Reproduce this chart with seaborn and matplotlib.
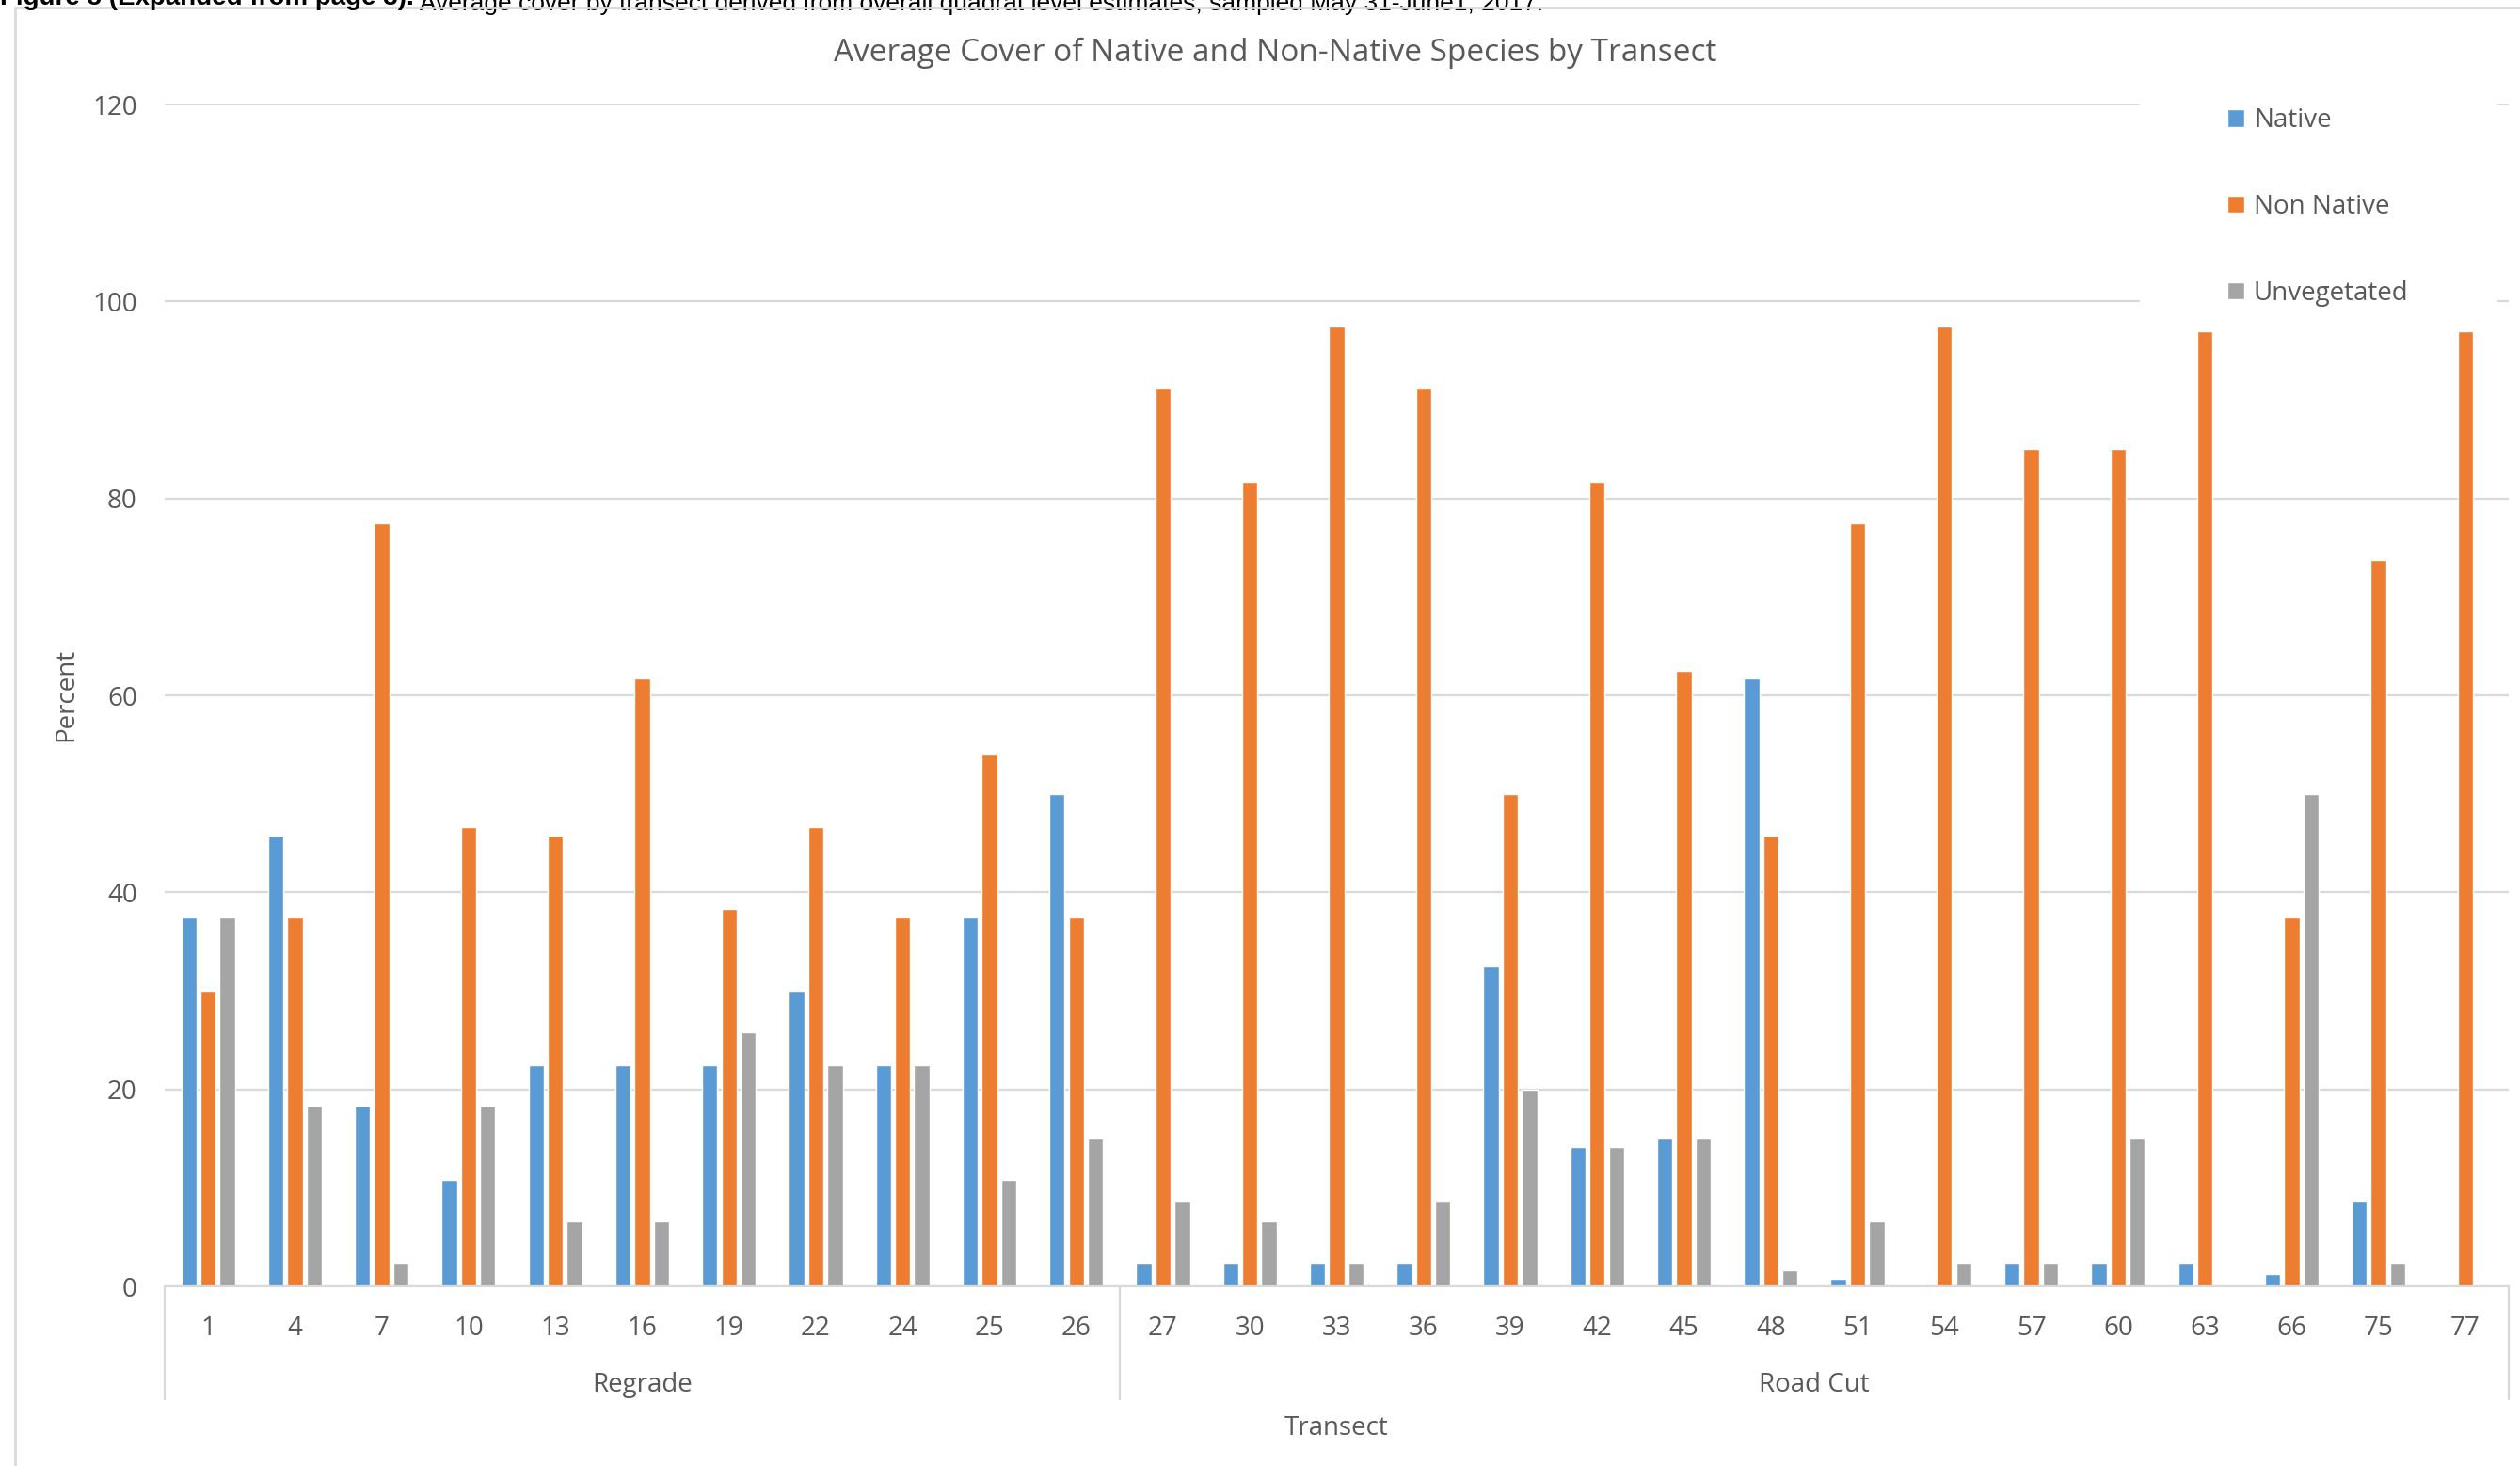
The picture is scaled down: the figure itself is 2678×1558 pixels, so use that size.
import numpy as np
import pandas as pd
import seaborn as sns
import matplotlib.pyplot as plt
from matplotlib.lines import Line2D
from matplotlib.patches import Rectangle
from matplotlib import transforms

# Average cover (%) per transect
transects = ["1", "4", "7", "10", "13", "16", "19", "22", "24", "25", "26",
             "27", "30", "33", "36", "39", "42", "45", "48", "51", "54",
             "57", "60", "63", "66", "75", "77"]
sites = ["Regrade"] * 11 + ["Road Cut"] * 16
native = [37.5, 45.8, 18.3, 10.8, 22.5, 22.5, 22.5, 30.0, 22.5, 37.5, 50.0,
          2.4, 2.4, 2.4, 2.4, 32.5, 14.1, 15.0, 61.7, 0.8, 0.0,
          2.4, 2.4, 2.4, 1.2, 8.7, 0.0]
non_native = [30.0, 37.5, 77.5, 46.6, 45.8, 61.7, 38.3, 46.6, 37.5, 54.1, 37.5,
              91.2, 81.7, 97.5, 91.2, 50.0, 81.7, 62.5, 45.8, 77.5, 97.5,
              85.0, 85.0, 97.0, 37.5, 73.8, 97.0]
unvegetated = [37.5, 18.3, 2.4, 18.3, 6.6, 6.6, 25.8, 22.5, 22.5, 10.8, 15.0,
               8.7, 6.6, 2.4, 8.7, 20.0, 14.1, 15.0, 1.6, 6.6, 2.4,
               2.4, 15.0, 0.0, 50.0, 2.4, 0.0]
series_names = ["Native", "Non Native", "Unvegetated"]
series_colors = ["#5B9BD5", "#ED7D31", "#A5A5A5"]
y_ticks = [0, 20, 40, 60, 80, 100, 120]

wide = pd.DataFrame({"Transect": transects, "Site": sites,
                     "Native": native, "Non Native": non_native,
                     "Unvegetated": unvegetated})
df = wide.melt(id_vars=["Transect", "Site"], value_vars=series_names,
               var_name="Cover", value_name="Percent")

sns.set_theme(style="white")
plt.rcParams["font.family"] = ["Open Sans", "DejaVu Sans"]
TXT = "#595959"
GRID = "#D9D9D9"

W, H = 2678, 1558
fig = plt.figure(figsize=(W / 100, H / 100), dpi=100)
fig.patch.set_facecolor("white")

# plot area in pixel coordinates
px_l, px_r, px_top, px_bot = 175, 2666, 111, 1367
ax = fig.add_axes([px_l / W, 1 - px_bot / H, (px_r - px_l) / W, (px_bot - px_top) / H])

sns.barplot(data=df, x="Transect", y="Percent", hue="Cover", order=transects,
            hue_order=series_names, palette=series_colors, saturation=1,
            errorbar=None, width=0.664, gap=0.2, ax=ax)

ax.set_ylim(0, 120)
ax.set_xlim(-0.5, len(transects) - 0.5)
ax.set_yticks(y_ticks)
ax.yaxis.grid(True, color=GRID, linewidth=1.6)
ax.set_axisbelow(True)
for s in ["top", "right", "left"]:
    ax.spines[s].set_visible(False)
ax.spines["bottom"].set_color(GRID)
ax.spines["bottom"].set_linewidth(1.6)
ax.tick_params(axis="y", length=0, pad=21, labelsize=20, labelcolor=TXT)
ax.tick_params(axis="x", length=0, pad=22, labelsize=20, labelcolor=TXT)
ax.set_xlabel("")
ax.set_ylabel("")

# legend, lifted out of the axes onto a white panel
handles, labels = ax.get_legend_handles_labels()
ax.get_legend().remove()
fig.patches.append(Rectangle((2274 / W, 1 - 345 / H), (2654 - 2274) / W, (345 - 90) / H,
                             transform=fig.transFigure, facecolor="white",
                             edgecolor="none", zorder=2))
leg = fig.legend(handles, labels, loc="upper left",
                 bbox_to_anchor=(2367 / W, 1 - 114 / H), frameon=False,
                 fontsize=20, labelcolor=TXT, handlelength=0.65, handleheight=0.65,
                 handletextpad=0.35, labelspacing=2.3, borderpad=0, borderaxespad=0)
leg.set_zorder(3)

# two-level category axis: group separators and group names
sep_tr = transforms.blended_transform_factory(ax.transData, fig.transFigure)
y0, y1 = 1 - px_bot / H, 1 - 1487 / H
for xs in [-0.5, 10.5, len(transects) - 0.5]:
    fig.add_artist(Line2D([xs, xs], [y0, y1], transform=sep_tr, color=GRID,
                          linewidth=1.6, clip_on=False))
for name in ["Regrade", "Road Cut"]:
    idx = [i for i, s in enumerate(sites) if s == name]
    xc = (idx[0] + idx[-1]) / 2
    fig.text(0, 1 - 1472 / H, name, transform=sep_tr, fontsize=20, color=TXT,
             ha="center", va="center").set_x(xc)

fig.text((px_l + px_r) / 2 / W, 1 - 1518 / H, "Transect", fontsize=20, color=TXT,
         ha="center", va="center")
fig.text(70 / W, 1 - 738 / H, "Percent", fontsize=20, color=TXT, rotation=90,
         ha="center", va="center")
fig.text(1355 / W, 1 - 56 / H, "Average Cover of Native and Non-Native Species by Transect",
         fontsize=24, color=TXT, ha="center", va="center")

# chart frame edges
fig.add_artist(Line2D([16 / W, 16 / W], [1 - 8 / H, 0], transform=fig.transFigure,
                      color=GRID, linewidth=2))
fig.add_artist(Line2D([16 / W, 1], [1 - 8 / H, 1 - 8 / H], transform=fig.transFigure,
                      color=GRID, linewidth=2))

# document caption above the chart (page edge trims its upper half)
cap1 = fig.text(0, 1 - 5 / H, "Figure 3 (Expanded from page 3).", fontsize=20,
                fontweight="bold", color="black", ha="left", va="baseline",
                family=["Liberation Sans", "DejaVu Sans"])
ax.annotate(" Average cover by transect derived from overall quadrat level estimates, sampled May 31-June1, 2017.",
            xy=(1, 0), xycoords=cap1, va="baseline", ha="left", fontsize=19,
            color="black", annotation_clip=False, family=["Liberation Sans", "DejaVu Sans"])

fig.savefig("out.png", dpi=100, facecolor="white")
